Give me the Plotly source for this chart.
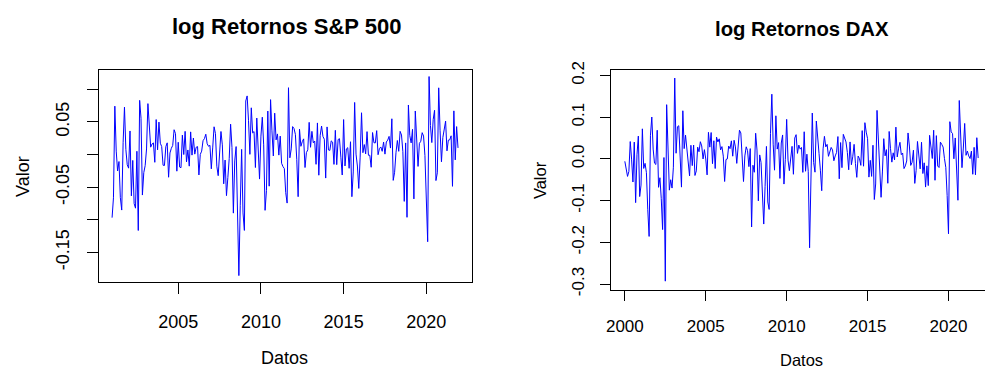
import plotly.graph_objects as go

# ---------------- data ----------------
sp_start = 2001.0      # first observation (ts start)
dax_start = 2000.0
freq = 12

sp500_logret = [
    # 2001 (Feb-Dec)
    -0.0968, -0.0664, 0.0740, 0.0051, -0.0253, -0.0108, -0.0662, -0.0852, 0.0179, 0.0725, 0.0076,
    # 2002
    -0.0157, -0.0210, 0.0360, -0.0634, -0.0091, -0.0753, -0.0823, 0.0049, -0.1165, 0.0829, 0.0555, -0.0622,
    # 2003
    -0.0278, -0.0171, 0.0084, 0.0779, 0.0496, 0.0112, 0.0161, 0.0177, -0.0120, 0.0535, 0.0071, 0.0496,
    # 2004
    0.0172, 0.0121, -0.0165, -0.0169, 0.0120, 0.0178, -0.0349, 0.0023, 0.0094, 0.0139, 0.0379, 0.0320,
    # 2005
    -0.0256, 0.0187, -0.0193, -0.0203, 0.0296, -0.0001, 0.0354, -0.0113, 0.0069, -0.0179, 0.0346, -0.0010,
    # 2006
    0.0252, 0.0005, 0.0110, 0.0121, -0.0314, 0.0001, 0.0051, 0.0211, 0.0243, 0.0310, 0.0164, 0.0125,
    # 2007
    0.0140, -0.0220, 0.0100, 0.0424, 0.0320, -0.0180, -0.0325, 0.0128, 0.0352, 0.0147, -0.0450, -0.0086,
    # 2008
    -0.0631, -0.0354, -0.0060, 0.0464, 0.0106, -0.0899, -0.0099, 0.0121, -0.0952, -0.1856, -0.0778, 0.0078,
    # 2009
    -0.0896, -0.1164, 0.0819, 0.0897, 0.0517, 0.0002, 0.0715, 0.0330, 0.0351, -0.0200, 0.0558, 0.0176,
    # 2010
    -0.0377, 0.0281, 0.0571, 0.0147, -0.0856, -0.0554, 0.0665, -0.0486, 0.0840, 0.0362, -0.0023, 0.0633,
    # 2011
    0.0224, 0.0315, -0.0010, 0.0281, -0.0136, -0.0185, -0.0217, -0.0585, -0.0745, 0.1023, -0.0051, 0.0085,
    # 2012
    0.0427, 0.0398, 0.0308, -0.0075, -0.0647, 0.0388, 0.0125, 0.0196, 0.0239, -0.0200, 0.0028, 0.0071,
    # 2013
    0.0492, 0.0110, 0.0354, 0.0179, 0.0206, -0.0151, 0.0483, -0.0318, 0.0293, 0.0436, 0.0276, 0.0233,
    # 2014
    -0.0362, 0.0422, 0.0069, 0.0062, 0.0208, 0.0189, -0.0152, 0.0370, -0.0156, 0.0229, 0.0242, -0.0042,
    # 2015
    -0.0315, 0.0535, -0.0176, 0.0085, 0.0104, -0.0212, 0.0195, -0.0647, -0.0268, 0.0797, 0.0005, -0.0177,
    # 2016
    -0.0520, -0.0041, 0.0639, 0.0027, 0.0152, 0.0009, 0.0350, -0.0012, -0.0012, -0.0196, 0.0336, 0.0180,
    # 2017
    0.0177, 0.0365, -0.0004, 0.0091, 0.0115, 0.0048, 0.0191, 0.0005, 0.0191, 0.0220, 0.0277, 0.0098,
    # 2018
    0.0547, -0.0397, -0.0273, 0.0027, 0.0214, 0.0048, 0.0354, 0.0298, 0.0043, -0.0719, 0.0177, -0.0963,
    # 2019
    0.0758, 0.0293, 0.0177, 0.0385, -0.0681, 0.0666, 0.0130, -0.0183, 0.0171, 0.0202, 0.0334, 0.0282,
    # 2020
    -0.0016, -0.0879, -0.1337, 0.1194, 0.0443, 0.0182, 0.0537, 0.0677, -0.0400, -0.0281, 0.1021, 0.0364,
    # 2021
    -0.0112, 0.0258, 0.0415, 0.0511, 0.0055, 0.0220, 0.0224, 0.0286, -0.0488, 0.0668, -0.0083, 0.0427,
    # 2022
    0.0100,
]

dax_logret = [
    # 2000 (Mar-Dec)
    -0.0059, -0.0246, -0.0420, -0.0301, 0.0415, -0.0006, -0.0555, 0.0402, -0.1049, 0.0097,
    # 2001
    0.0546, -0.0903, -0.0628, 0.0720, -0.0229, -0.0107, -0.0331, -0.1220, -0.1859, 0.0566, 0.1003, 0.0235,
    # 2002
    -0.0103, -0.0134, 0.0686, -0.0682, -0.0452, -0.0946, -0.1694, 0.0032, -0.2931, 0.1299, 0.0200, -0.0750,
    # 2003
    -0.0500, -0.0700, -0.0200, 0.1937, 0.0135, 0.0771, 0.0794, -0.0006, -0.0677, 0.1153, 0.0246, 0.0568,
    # 2004
    0.0232, -0.0099, -0.0409, 0.0326, -0.0162, 0.0331, -0.0398, -0.0287, 0.0281, 0.0171, 0.0411, 0.0310,
    # 2005
    -0.0002, 0.0221, -0.0002, -0.0384, 0.0636, 0.0281, 0.0631, -0.0115, 0.0434, -0.0231, 0.0522, 0.0406,
    # 2006
    0.0480, 0.0214, 0.0294, 0.0065, -0.0542, -0.0016, -0.0002, 0.0307, 0.0244, 0.0432, 0.0064, 0.0446,
    # 2007
    0.0287, -0.0108, 0.0295, 0.0687, 0.0621, 0.0155, -0.0543, 0.0071, 0.0289, 0.0198, -0.0186, 0.0246,
    # 2008
    -0.1633, -0.0153, -0.0321, 0.0614, 0.0211, -0.1006, 0.0095, -0.0088, -0.0965, -0.1562, -0.0661, 0.0298,
    # 2009
    -0.1033, -0.1212, 0.0611, 0.1550, 0.0352, -0.0271, 0.1032, 0.0234, 0.0390, -0.0469, 0.0380, 0.0573,
    # 2010
    -0.0604, -0.0018, 0.0947, -0.0029, -0.0283, 0.0002, 0.0300, -0.0369, 0.0500, 0.0580, 0.0131, 0.0332,
    # 2011
    0.0233, 0.0273, -0.0324, 0.0650, -0.0297, 0.0112, -0.0299, -0.2131, -0.0502, 0.1099, -0.0085, -0.0319,
    # 2012
    0.0907, 0.0598, 0.0132, -0.0271, -0.0764, 0.0240, 0.0540, 0.0288, 0.0347, 0.0061, 0.0199, 0.0274,
    # 2013
    0.0213, -0.0045, 0.0070, 0.0152, 0.0535, -0.0478, 0.0391, -0.0211, 0.0588, 0.0498, 0.0405, 0.0154,
    # 2014
    -0.0261, 0.0406, -0.0141, 0.0049, 0.0348, -0.0111, -0.0443, 0.0067, 0.0004, -0.0156, 0.0677, -0.0176,
    # 2015
    0.0867, 0.0641, 0.0483, -0.0437, -0.0035, -0.0420, 0.0327, -0.0974, -0.0602, 0.1162, 0.0479, -0.0578,
    # 2016
    -0.0921, -0.0314, 0.0484, 0.0073, 0.0221, -0.0585, 0.0657, 0.0245, -0.0078, 0.0145, -0.0023, 0.0761,
    # 2017
    0.0047, 0.0256, 0.0397, 0.0101, 0.0141, -0.0233, -0.0169, -0.0051, 0.0621, 0.0308, -0.0157, -0.0082,
    # 2018
    0.0208, -0.0588, -0.0276, 0.0417, -0.0006, -0.0240, 0.0398, -0.0351, -0.0095, -0.0676, -0.0167, -0.0640,
    # 2019
    0.0565, 0.0302, 0.0009, 0.0686, -0.0513, 0.0557, -0.0171, -0.0207, 0.0401, 0.0347, 0.0283, 0.0010,
    # 2020
    -0.0204, -0.0879, -0.1795, 0.0891, 0.0646, 0.0606, 0.0002, 0.0501, -0.0143, -0.0992, 0.1399, 0.0317,
    # 2021
    -0.0211, 0.0259, 0.0849, 0.0085, 0.0187, 0.0071, 0.0008, 0.0185, -0.0369, 0.0276, -0.0382, 0.0507,
    # 2022
    0.0020,
]

sp_xticks = [2005, 2010, 2015, 2020]
sp_yticks = [-0.15, -0.10, -0.05, 0.00, 0.05, 0.10]
sp_ytick_labels = ["-0.15", "", "-0.05", "", "0.05", ""]
dax_xticks = [2000, 2005, 2010, 2015, 2020]
dax_yticks = [-0.3, -0.2, -0.1, 0.0, 0.1, 0.2]
dax_ytick_labels = ["-0.3", "-0.2", "-0.1", "0.0", "0.1", "0.2"]

title_sp = "log Retornos S&P 500"
title_dax = "log Retornos DAX"
x_label = "Datos"
y_label = "Valor"

# time index like an R ts object
t_sp = [sp_start + i / freq for i in range(len(sp500_logret))]
t_dax = [dax_start + i / freq for i in range(len(dax_logret))]

# ---------------- figure ----------------
W, H = 985, 376
FONT = "Liberation Sans, Arial, Helvetica, sans-serif"
LINE = dict(color="#0000FF", width=1)

fig = go.Figure()
fig.add_trace(go.Scatter(x=t_sp, y=sp500_logret, mode="lines", line=LINE,
                         xaxis="x", yaxis="y", hoverinfo="skip"))
fig.add_trace(go.Scatter(x=t_dax, y=dax_logret, mode="lines", line=LINE,
                         xaxis="x2", yaxis="y2", hoverinfo="skip"))

def px_x(p):
    return p / W

def px_y(p):
    return 1 - p / H

axis_common = dict(showline=True, linecolor="#000000", linewidth=1,
                   ticks="outside", tickcolor="#000000", tickwidth=1,
                   showgrid=False, zeroline=False, fixedrange=True)

fig.update_layout(
    width=W, height=H,
    margin=dict(l=0, r=0, t=0, b=0, pad=0),
    paper_bgcolor="white", plot_bgcolor="white",
    showlegend=False,
    xaxis=dict(domain=[px_x(94), px_x(469)], range=[2000.18, 2022.74], anchor="y",
               mirror=True, ticklen=11, tickmode="array", tickvals=sp_xticks,
               ticklabelstandoff=12,
               tickfont=dict(family=FONT, size=18, color="#000000"),
               **axis_common),
    yaxis=dict(domain=[px_y(285), px_y(64)], range=[-0.196, 0.130], anchor="x",
               mirror=True, ticklen=11, tickmode="array", tickvals=sp_yticks,
               ticktext=sp_ytick_labels, tickangle=-90, ticklabelstandoff=10,
               tickfont=dict(family=FONT, size=18, color="#000000"),
               **axis_common),
    xaxis2=dict(domain=[px_x(609), 1.0], range=[1999.139, 2022.256], anchor="y2",
                mirror=True, ticklen=10, tickmode="array", tickvals=dax_xticks,
                ticklabelstandoff=11,
                tickfont=dict(family=FONT, size=17, color="#000000"),
                **axis_common),
    yaxis2=dict(domain=[px_y(292.7), px_y(64)], range=[-0.3138, 0.2139], anchor="x2",
                mirror=False, ticklen=10, tickmode="array", tickvals=dax_yticks,
                ticktext=dax_ytick_labels, tickangle=-90, ticklabelstandoff=9,
                tickfont=dict(family=FONT, size=17, color="#000000"),
                **axis_common),
)

def ann(text, x, y, size, angle=0, bold=False):
    fig.add_annotation(text=f"<b>{text}</b>" if bold else text,
                       x=px_x(x), y=px_y(y), xref="paper", yref="paper",
                       xanchor="center", yanchor="middle", showarrow=False,
                       textangle=angle,
                       font=dict(family=FONT, size=size, color="#000000"))

ann(title_sp, 283, 19.5, 22, bold=True)
ann(title_dax, 801, 22, 20.3, bold=True)
ann(y_label, 18.5, 175, 18, angle=-90)
ann(y_label, 538, 178.5, 16.5, angle=-90)
ann(x_label, 281.3, 363.3, 18)
ann(x_label, 800.7, 365.7, 16.5)

fig.write_html("out.html")
